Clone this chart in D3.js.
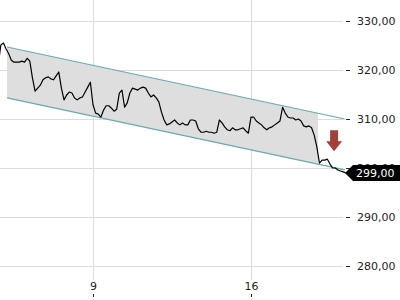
<!DOCTYPE html>
<html>
<head>
<meta charset="utf-8">
<script src="https://cdn.jsdelivr.net/npm/d3@7"></script>
<style>
  body { margin: 0; background: #fff; }
  svg { display: block; font-family: "DejaVu Sans", sans-serif; }
</style>
</head>
<body>
<svg id="chart" width="400" height="300"></svg>
<script>
// trading days shown (x axis is in trading-day units, weekends compressed)
var tradingDays = ["4", "5", "6", "9", "10", "11", "12", "13", "16", "17", "18"];
var tickDays = ["9", "16"];
var yTicks = [280, 290, 300, 310, 320, 330];

// intraday prices, 12 samples per day (last day closes at 299,00)
var intraday = [
  [321.0, 325.1, 325.5, 324.3, 323.3, 322.0, 321.6, 321.6, 321.6, 321.8, 321.6, 322.4],
  [321.8, 318.4, 315.7, 316.3, 316.9, 318.0, 318.4, 318.6, 318.2, 318.0, 318.8, 319.6],
  [316.3, 313.9, 314.9, 315.5, 315.3, 314.3, 313.9, 314.3, 314.5, 315.5, 316.5, 317.5],
  [312.9, 311.2, 311.0, 310.4, 311.8, 312.7, 312.7, 312.2, 311.6, 312.0, 315.3, 315.9],
  [312.4, 313.3, 315.3, 316.3, 316.1, 315.9, 316.3, 316.5, 316.3, 315.3, 314.5, 314.9],
  [314.3, 313.5, 311.4, 309.8, 308.8, 309.0, 309.4, 309.8, 309.2, 308.8, 309.2, 308.8],
  [308.8, 309.8, 309.8, 309.6, 308.0, 307.3, 307.3, 307.5, 307.3, 307.3, 307.1, 307.3],
  [309.8, 309.2, 308.4, 307.8, 307.6, 308.2, 307.8, 307.8, 308.0, 308.2, 307.6, 307.1],
  [310.4, 310.4, 309.6, 309.2, 308.8, 308.2, 307.8, 308.2, 308.4, 308.8, 309.2, 309.6],
  [312.4, 311.2, 310.4, 310.2, 310.2, 309.8, 310.0, 309.6, 308.6, 308.4, 308.6, 308.2],
  [306.7, 304.3, 301.0, 301.6, 301.6, 301.8, 300.8, 300.0, 300.0, 299.6, 299.4, 299.2, 299.0]
];
var lastPrice = 299.0;

// downward trend channel
var channelT = [0.28, 10.97];
var channelUpper = [324.7, 310.0];
var channelLower = [314.3, 299.6];
var shadeEndT = 10.12;

// sell signal arrow
var signalT = 10.63;
var signalPrice = 303.4;

var svg = d3.select("#chart");
var width = +svg.attr("width");
var height = +svg.attr("height");
var plotRight = 343;
var plotBottom = 280;

var x = d3.scaleLinear().domain([0, tradingDays.length]).range([-1.8, 345.8]);
var y = d3.scaleLinear().domain([280, 330]).range([266, 21]);
var fmt = function(d) { return d3.format(".2f")(d).replace(".", ","); };

// grid
svg.append("g").selectAll("line").data(yTicks).join("line")
  .attr("x1", 0).attr("x2", plotRight)
  .attr("y1", function(d) { return Math.round(y(d)) + 0.5; })
  .attr("y2", function(d) { return Math.round(y(d)) + 0.5; })
  .attr("stroke", "#dcdcdc");

svg.append("g").selectAll("line").data(tickDays).join("line")
  .attr("x1", function(d) { return Math.round(x(tradingDays.indexOf(d))) + 0.5; })
  .attr("x2", function(d) { return Math.round(x(tradingDays.indexOf(d))) + 0.5; })
  .attr("y1", 0).attr("y2", plotBottom)
  .attr("stroke", "#dcdcdc");

// channel shading
function chanAt(arr, t) {
  var f = (t - channelT[0]) / (channelT[1] - channelT[0]);
  return arr[0] + f * (arr[1] - arr[0]);
}
var shade = [
  [x(channelT[0]), y(channelUpper[0])],
  [x(shadeEndT), y(chanAt(channelUpper, shadeEndT))],
  [x(shadeEndT), y(chanAt(channelLower, shadeEndT))],
  [x(channelT[0]), y(channelLower[0])]
];
svg.append("path")
  .attr("d", "M" + shade.join("L") + "Z")
  .attr("fill", "#dedede");

[channelUpper, channelLower].forEach(function(arr) {
  svg.append("line")
    .attr("x1", x(channelT[0])).attr("y1", y(arr[0]))
    .attr("x2", x(channelT[1])).attr("y2", y(arr[1]))
    .attr("stroke", "#69aab2").attr("stroke-width", 1.2);
});

// price line
var pts = [];
intraday.forEach(function(day, d) {
  day.forEach(function(p, i) { pts.push({ t: d + i / 12, p: p }); });
});
var line = d3.line().x(function(d) { return x(d.t); }).y(function(d) { return y(d.p); });
svg.append("path")
  .datum(pts)
  .attr("d", line)
  .attr("fill", "none")
  .attr("stroke", "#000")
  .attr("stroke-width", 1.2)
  .attr("stroke-linejoin", "round");

// signal arrow
var ax = x(signalT), ay = y(signalPrice);
svg.append("path")
  .attr("d", "M" + (ax - 4) + "," + (ay - 21) + "H" + (ax + 4) + "V" + (ay - 10) +
    "H" + (ax + 8) + "L" + ax + "," + ay + "L" + (ax - 8) + "," + (ay - 10) +
    "H" + (ax - 4) + "Z")
  .attr("fill", "#a3403a");

// y axis
var yAxis = svg.append("g")
  .attr("transform", "translate(346,0)")
  .call(d3.axisRight(y).tickValues(yTicks).tickSize(4).tickPadding(7).tickFormat(fmt));
yAxis.select(".domain").remove();
yAxis.selectAll("line").attr("stroke", "#222");
yAxis.selectAll("text").attr("font-size", 11).attr("fill", "#222")
  .attr("font-family", "DejaVu Sans, sans-serif");

// x axis
var xAxis = svg.append("g")
  .attr("transform", "translate(0,297)")
  .call(d3.axisTop(x)
    .tickValues(tickDays.map(function(d) { return tradingDays.indexOf(d); }))
    .tickSize(3).tickPadding(4)
    .tickFormat(function(i) { return tradingDays[i]; }));
xAxis.select(".domain").remove();
xAxis.selectAll("line").attr("stroke", "#222");
xAxis.selectAll("text").attr("font-size", 11).attr("fill", "#222")
  .attr("font-family", "DejaVu Sans, sans-serif");

// last price tag
var ly = y(lastPrice);
svg.append("path")
  .attr("d", "M345," + ly + "L353," + (ly - 8) + "H" + width + "V" + (ly + 8) + "H353Z")
  .attr("fill", "#000");
svg.append("text")
  .attr("x", 356).attr("y", ly + 4)
  .attr("font-size", 11).attr("fill", "#fff")
  .text(fmt(lastPrice));
</script>
</body>
</html>
